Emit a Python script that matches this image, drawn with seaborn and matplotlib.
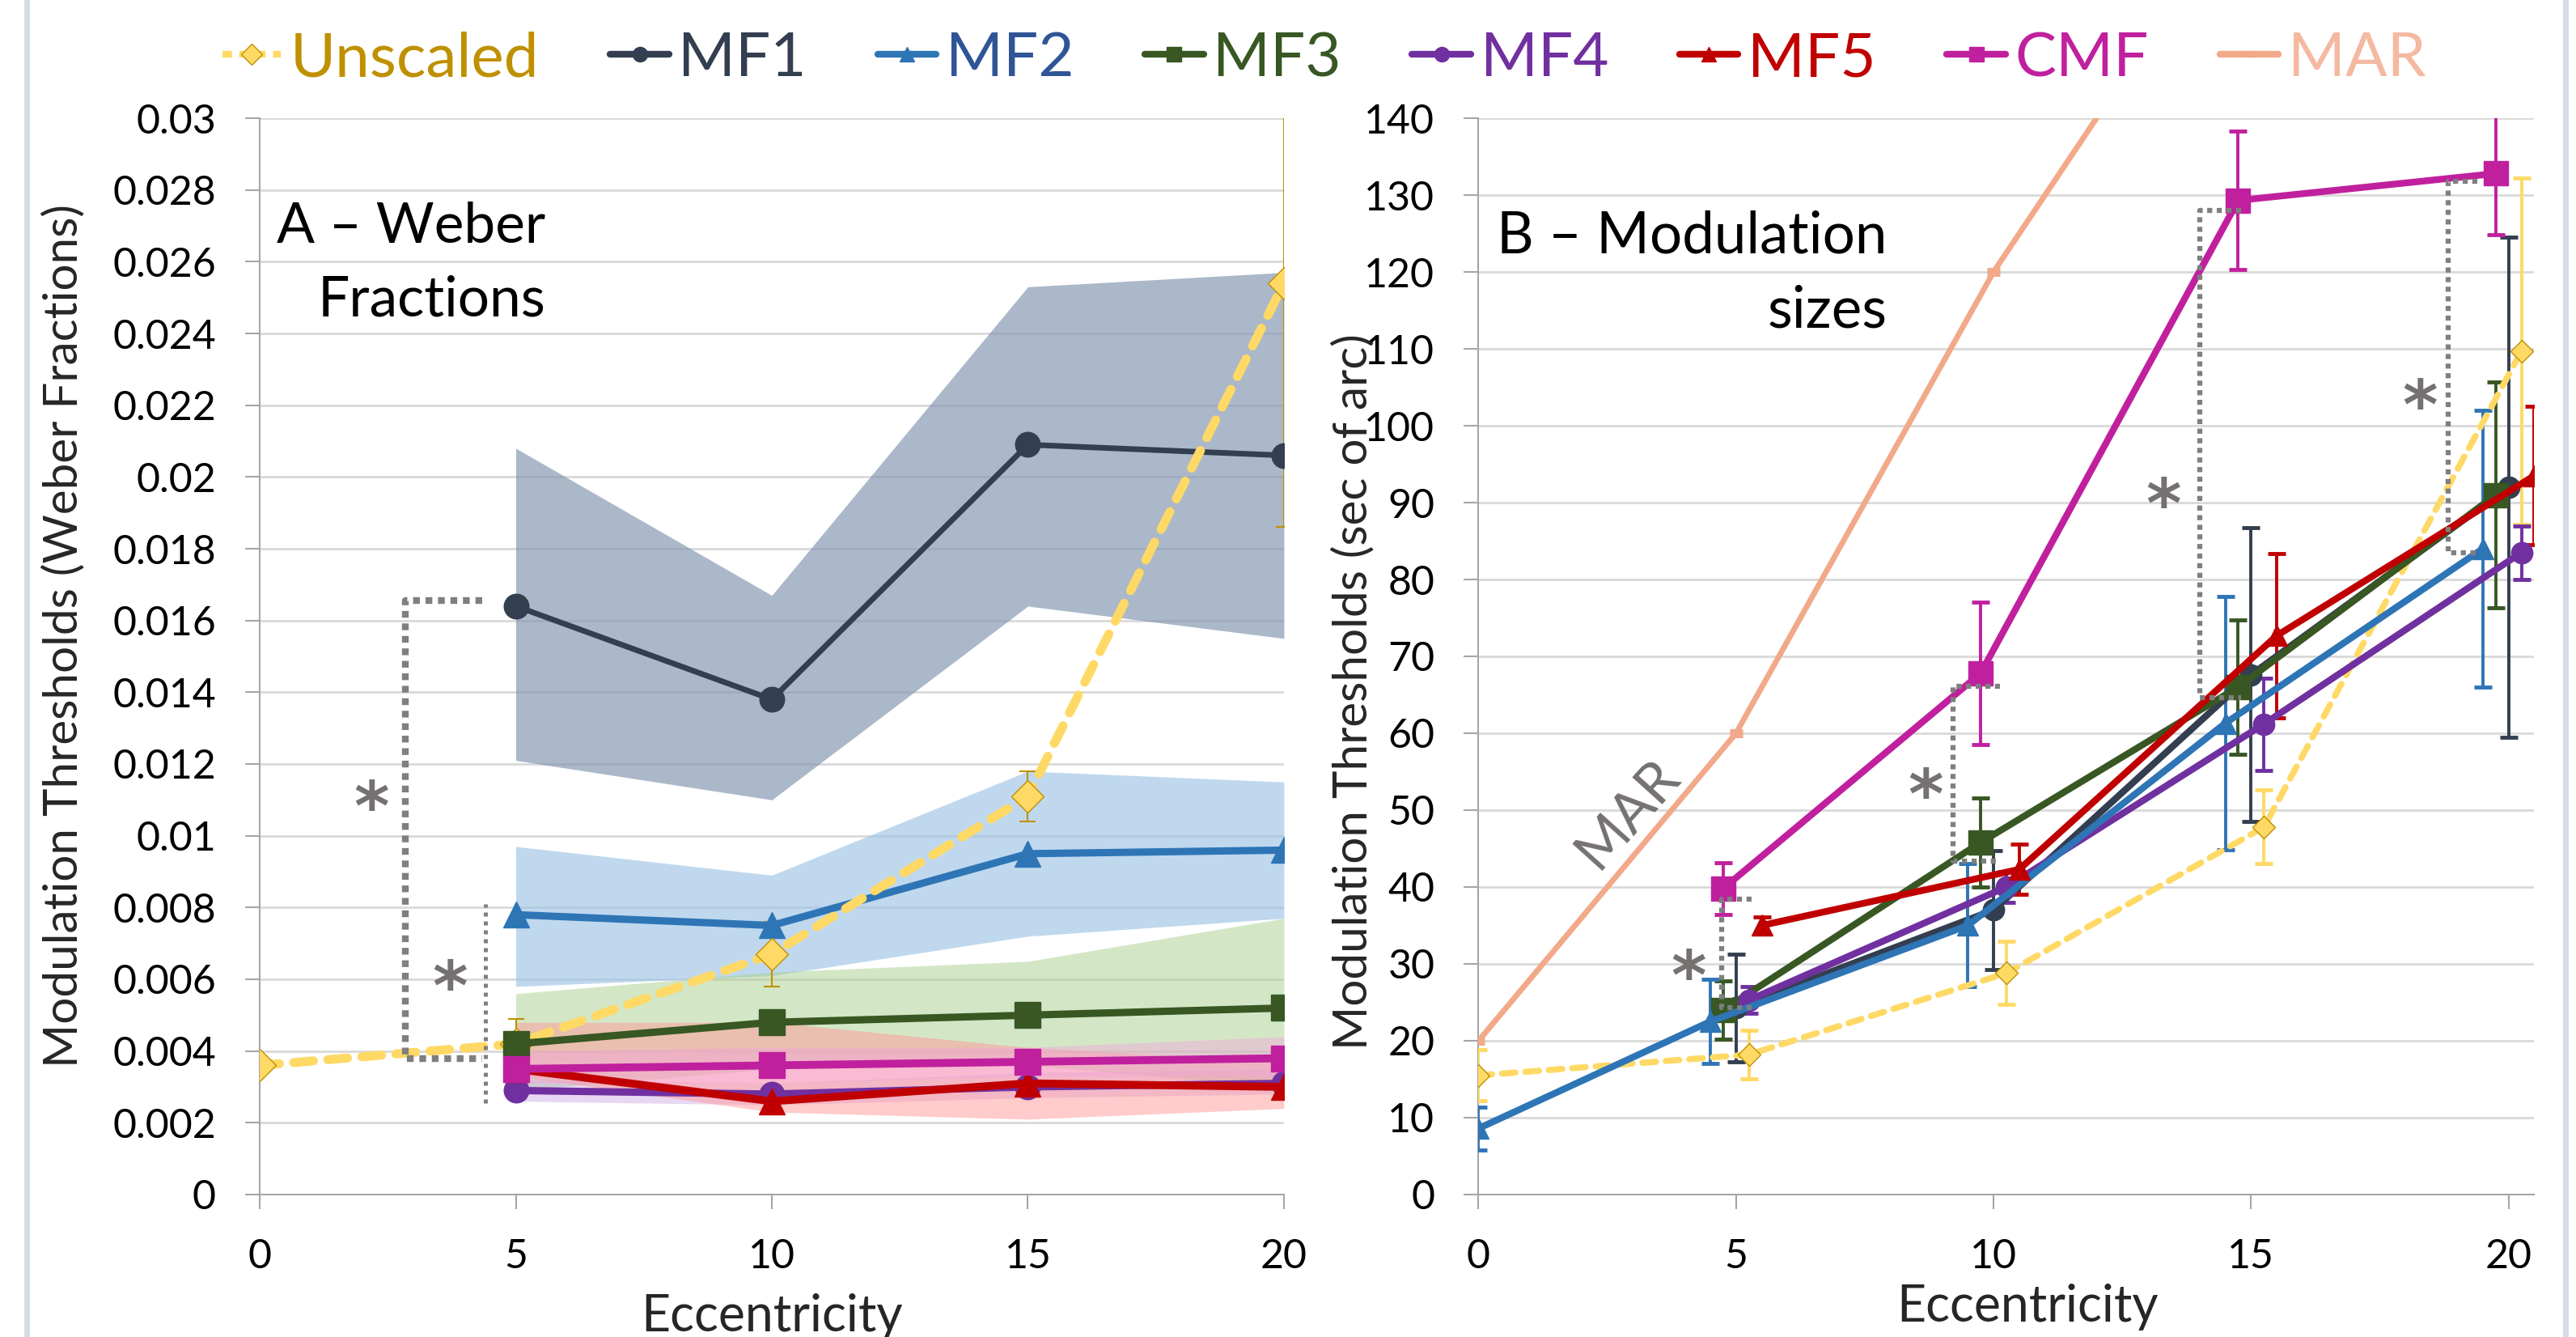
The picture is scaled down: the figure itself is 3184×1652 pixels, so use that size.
import numpy as np
import matplotlib
matplotlib.use("Agg")
import matplotlib.pyplot as plt
from matplotlib.lines import Line2D
import seaborn as sns

# eccentricity (deg)
ecc = [5, 10, 15, 20]
ecc0 = [0, 5, 10, 15, 20]
ecc_mar = [0, 5, 10, 15]

# panel A - thresholds as Weber fractions (line + shaded range)
a_unscaled = [0.0036, 0.0042, 0.0067, 0.0111, 0.0254]
a_unscaled_err = [0.0, 0.0007, 0.0009, 0.0007, 0.0068]
a_mf1 = [0.0164, 0.0138, 0.0209, 0.0206]
a_mf1_lo = [0.0121, 0.0110, 0.0164, 0.0155]
a_mf1_hi = [0.0208, 0.0167, 0.0253, 0.0257]
a_mf2 = [0.0078, 0.0075, 0.0095, 0.0096]
a_mf2_lo = [0.0058, 0.0061, 0.0072, 0.0077]
a_mf2_hi = [0.0097, 0.0089, 0.0118, 0.0115]
a_mf3 = [0.0042, 0.0048, 0.0050, 0.0052]
a_mf3_lo = [0.0029, 0.0035, 0.0036, 0.0030]
a_mf3_hi = [0.0056, 0.0062, 0.0065, 0.0077]
a_mf4 = [0.0029, 0.0028, 0.0030, 0.0031]
a_mf4_lo = [0.0026, 0.0025, 0.0027, 0.0028]
a_mf4_hi = [0.0032, 0.0031, 0.0034, 0.0035]
a_mf5 = [0.0035, 0.0026, 0.0031, 0.0030]
a_mf5_lo = [0.0033, 0.0023, 0.0021, 0.0024]
a_mf5_hi = [0.0048, 0.0048, 0.0041, 0.0037]
a_cmf = [0.0035, 0.0036, 0.0037, 0.0038]
a_cmf_lo = [0.0031, 0.0031, 0.0033, 0.0033]
a_cmf_hi = [0.0040, 0.0041, 0.0041, 0.0044]

# panel B - thresholds in sec of arc (mean +- error)
b_unscaled = [15.5, 18.2, 28.8, 47.8, 109.7]
b_unscaled_err = [3.3, 3.2, 4.1, 4.8, 22.5]
b_mf1 = [24.3, 37.0, 67.6, 92.0]
b_mf1_err = [7.0, 7.7, 19.1, 32.5]
b_mf2 = [8.6, 22.5, 35.0, 61.3, 84.0]
b_mf2_err = [2.8, 5.5, 8.0, 16.5, 18.0]
b_mf3 = [24.0, 45.8, 66.0, 91.0]
b_mf3_err = [3.8, 5.8, 8.7, 14.7]
b_mf4 = [25.3, 40.0, 61.2, 83.5]
b_mf4_err = [1.7, 2.0, 6.0, 3.5]
b_mf5 = [35.0, 42.3, 72.7, 93.5]
b_mf5_err = [1.1, 3.3, 10.7, 9.0]
b_cmf = [39.8, 67.8, 129.3, 132.8]
b_cmf_err = [3.4, 9.3, 9.0, 8.0]
b_mar = [20, 60, 120, 170]

# significance brackets: (x, y_low, y_high, x_end of the horizontal ticks)
a_brackets = [(2.84, 0.00378, 0.01656, 4.35)]
a_lines = [(4.41, 0.00255, 0.0081)]
a_stars = [(2.18, 0.0113), (3.72, 0.0063)]
b_brackets = [(4.72, 24.3, 38.4, 5.3), (9.22, 43.4, 66.1, 10.13),
              (14.0, 64.6, 128.0, 14.8), (18.83, 83.5, 131.8, 19.4)]
b_stars = [(4.08, 30.7), (8.68, 54.3), (13.3, 92.1), (18.28, 105.0)]

names = ["Unscaled", "MF1", "MF2", "MF3", "MF4", "MF5", "CMF", "MAR"]
colors = {"Unscaled": "#FFD966", "MF1": "#333F50", "MF2": "#2E75B6", "MF3": "#385723",
          "MF4": "#7030A0", "MF5": "#C00000", "CMF": "#C0209E", "MAR": "#F2A98A"}
text_colors = {"Unscaled": "#BF9000", "MF1": "#333F50", "MF2": "#2F5597", "MF3": "#385723",
               "MF4": "#7030A0", "MF5": "#C00000", "CMF": "#C0209E", "MAR": "#F4B9A0"}
markers = {"Unscaled": "D", "MF1": "o", "MF2": "^", "MF3": "s",
           "MF4": "o", "MF5": "^", "CMF": "s", "MAR": "_"}
bands = {"MF1": ("#8497B0", 0.68), "MF2": ("#9DC3E6", 0.65), "MF3": ("#A9D18E", 0.5),
         "MF4": ("#CDA8E6", 0.45), "MF5": ("#FF9999", 0.5), "CMF": ("#F4A6DE", 0.45)}
# horizontal jitter of the series in panel B
b_shift = {"Unscaled": 0.25, "MF1": 0.0, "MF2": -0.5, "MF3": -0.25,
           "MF4": 0.25, "MF5": 0.5, "CMF": -0.25}

sns.set_theme(style="white")
plt.rcParams["font.family"] = ["Lato", "DejaVu Sans"]

GRID = "#D9D9D9"
AXC = "#A6A6A6"
STAR = "#767171"
DOTS = "#7F7F7F"

fig = plt.figure(figsize=(31.84, 16.52), dpi=100)
ax_a = fig.add_axes([0.10082, 0.10654, 0.3976, 0.80508])
ax_b = fig.add_axes([0.57396, 0.10654, 0.40986, 0.80508])


def style_axes(ax):
    ax.set_axisbelow(True)
    ax.grid(axis="y", color=GRID, linewidth=2)
    ax.grid(axis="x", visible=False)
    for side in ["top", "right"]:
        ax.spines[side].set_visible(False)
    for side in ["left", "bottom"]:
        ax.spines[side].set_color(AXC)
        ax.spines[side].set_linewidth(1.5)
    ax.tick_params(axis="both", which="major", direction="out", length=13, width=1.5,
                   color=AXC, labelsize=36, pad=26, labelcolor="black",
                   left=True, bottom=True)


def draw_line(ax, x, y, name, lw, ms, dashed=False):
    sns.lineplot(x=x, y=y, ax=ax, sort=False, color=colors[name], linewidth=lw,
                 marker=markers[name], markersize=ms, markeredgecolor=colors[name],
                 markeredgewidth=1, legend=False, zorder=4)
    line = ax.lines[-1]
    if dashed:
        line.set_dashes((2.2, 1.6))
        line.set_dash_capstyle("round")
        line.set_markeredgecolor("#BF9000")
    return line


def star(ax, x, y, size):
    ax.annotate("*", xy=(x, y), xytext=(0, -0.6 * size), textcoords="offset points",
                ha="center", va="baseline", fontsize=size, color=STAR,
                family="DejaVu Sans", fontweight="bold", zorder=6)


# ---------------- panel A ----------------
style_axes(ax_a)
for name, lo, hi in [("MF1", a_mf1_lo, a_mf1_hi), ("MF2", a_mf2_lo, a_mf2_hi),
                     ("MF3", a_mf3_lo, a_mf3_hi), ("MF4", a_mf4_lo, a_mf4_hi),
                     ("MF5", a_mf5_lo, a_mf5_hi), ("CMF", a_cmf_lo, a_cmf_hi)]:
    c, al = bands[name]
    ax_a.fill_between(ecc, lo, hi, color=c, alpha=al, linewidth=0, zorder=1)

draw_line(ax_a, ecc, a_mf1, "MF1", 5, 22)
draw_line(ax_a, ecc, a_mf2, "MF2", 6.5, 23)
ax_a.errorbar(ecc0, a_unscaled, yerr=a_unscaled_err, fmt="none", ecolor="#BF9000",
              elinewidth=1.5, capsize=7, capthick=1.5, zorder=3)
draw_line(ax_a, ecc0, a_unscaled, "Unscaled", 8, 20, dashed=True)
draw_line(ax_a, ecc, a_mf3, "MF3", 6.5, 23)
draw_line(ax_a, ecc, a_mf4, "MF4", 6.5, 22)
draw_line(ax_a, ecc, a_mf5, "MF5", 7, 23)
draw_line(ax_a, ecc, a_cmf, "CMF", 7, 23)

for x, y0, y1, x1 in a_brackets:
    ax_a.plot([x1, x, x, x1], [y1, y1, y0, y0], color=DOTS, lw=6,
              linestyle=(0, (1, 0.85)), dash_capstyle="butt", zorder=5)
for x, y0, y1 in a_lines:
    ax_a.plot([x, x], [y0, y1], color=DOTS, lw=3.6,
              linestyle=(0, (1, 1.2)), dash_capstyle="butt", zorder=5)
for x, y in a_stars:
    star(ax_a, x, y, 60)

ax_a.set_xlim(0, 20)
ax_a.set_ylim(0, 0.03)
ax_a.set_xticks([0, 5, 10, 15, 20])
yt = np.round(np.arange(0, 0.0301, 0.002), 3)
ax_a.set_yticks(yt)
ax_a.set_yticklabels([f"{v:g}" for v in yt])
ax_a.set_xlabel("Eccentricity", fontsize=45)
ax_a.xaxis.set_label_coords(0.5, -0.092)
ax_a.set_ylabel("Modulation Thresholds (Weber Fractions)", fontsize=42)
ax_a.yaxis.set_label_coords(-0.1915, 0.5195)
ax_a.yaxis.label.set_va("center")
ax_a.text(0.279, 0.8842, "A \u2013 Weber", transform=ax_a.transAxes, ha="right",
          va="baseline", fontsize=50, color="black")
ax_a.text(0.279, 0.8165, "Fractions", transform=ax_a.transAxes, ha="right",
          va="baseline", fontsize=50, color="black")

# ---------------- panel B ----------------
style_axes(ax_b)


def bx(name, xs):
    return [e + b_shift[name] if e > 0 else e for e in xs]


draw_line(ax_b, ecc_mar, b_mar, "MAR", 5, 12)
ax_b.lines[-1].set_markeredgewidth(8)

series_b = [("Unscaled", ecc0, b_unscaled, b_unscaled_err, 14),
            ("MF1", ecc, b_mf1, b_mf1_err, 19),
            ("MF3", ecc, b_mf3, b_mf3_err, 21),
            ("MF4", ecc, b_mf4, b_mf4_err, 19),
            ("MF2", ecc0, b_mf2, b_mf2_err, 19),
            ("MF5", ecc, b_mf5, b_mf5_err, 19),
            ("CMF", ecc, b_cmf, b_cmf_err, 21)]
for name, xs, ys, err, ms in series_b:
    xx = bx(name, xs)
    ax_b.errorbar(xx, ys, yerr=err, fmt="none", ecolor=colors[name],
                  elinewidth=2.8, capsize=8, capthick=3.5, zorder=3)
    draw_line(ax_b, xx, ys, name, 6 if name != "Unscaled" else 5.5, ms,
              dashed=(name == "Unscaled"))

for x, y0, y1, x1 in b_brackets:
    ax_b.plot([x1, x, x, x1], [y1, y1, y0, y0], color=DOTS, lw=4.5,
              linestyle=(0, (1, 0.9)), dash_capstyle="butt", zorder=5)
for x, y in b_stars:
    star(ax_b, x, y, 60)

ax_b.text(2.9, 49.5, "MAR", rotation=48, rotation_mode="anchor", ha="center",
          va="center", fontsize=50, color=STAR)

ax_b.set_xlim(0, 20.5)
ax_b.set_ylim(0, 140)
ax_b.set_xticks([0, 5, 10, 15, 20])
ax_b.set_yticks(np.arange(0, 141, 10))
ax_b.set_xlabel("Eccentricity", fontsize=45)
ax_b.xaxis.set_label_coords(0.52, -0.083)
ax_b.set_ylabel("Modulation Thresholds (sec of arc)", fontsize=42)
ax_b.yaxis.set_label_coords(-0.119, 0.467)
ax_b.yaxis.label.set_va("center")
ax_b.text(0.387, 0.875, "B \u2013 Modulation", transform=ax_b.transAxes, ha="right",
          va="baseline", fontsize=51, color="black")
ax_b.text(0.387, 0.806, "sizes", transform=ax_b.transAxes, ha="right",
          va="baseline", fontsize=51, color="black")

# ---------------- legend ----------------
handles = []
for name in names:
    h = Line2D([], [], color=colors[name], lw=6, marker=markers[name],
               markersize=13 if name != "MAR" else 9,
               markeredgecolor=colors[name] if name != "Unscaled" else "#BF9000",
               markeredgewidth=1 if name != "MAR" else 6)
    if name == "Unscaled":
        h.set_dashes((1.4, 1.1))
    handles.append(h)
leg = fig.legend(handles, names, loc="center", bbox_to_anchor=(0.514, 0.956), ncol=8,
                 frameon=False, fontsize=55, handlelength=0.95, handletextpad=0.15,
                 columnspacing=1.15)
for txt, name in zip(leg.get_texts(), names):
    txt.set_color(text_colors[name])

# light chart-area border on both sides
for xf in [33 / 3184, 3171 / 3184]:
    fig.add_artist(Line2D([xf, xf], [0, 1], transform=fig.transFigure,
                          color="#D6DCE5", lw=5))

fig.savefig("out.png", dpi=100)
